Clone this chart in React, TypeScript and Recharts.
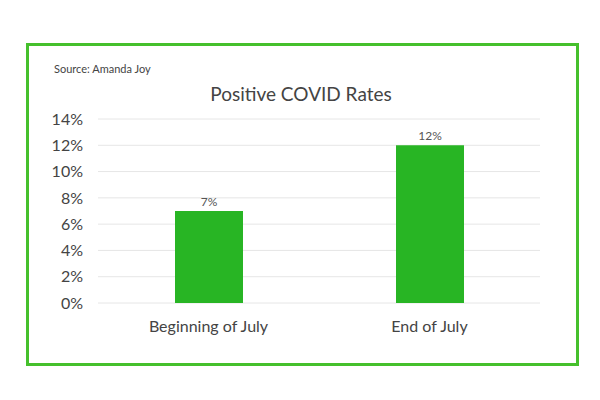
import { BarChart, Bar, XAxis, YAxis, CartesianGrid, LabelList } from 'recharts'

const categories = ['Beginning of July', 'End of July']
const rates = [7, 12]
const yTicks = [0, 2, 4, 6, 8, 10, 12, 14]

const FONT = 'Lato, "Open Sans", sans-serif'

export default function App() {
  const data = categories.map((name, i) => ({ name, rate: rates[i] }))

  return (
    <div style={{ position: 'absolute', left: 0, top: 0, width: 600, height: 400, background: '#fff', fontFamily: FONT }}>
      <div style={{ position: 'absolute', left: 26, top: 43, width: 547, height: 317, border: '3px solid #45c02c' }} />
      <div style={{ position: 'absolute', left: 54, top: 62, fontSize: 11, color: '#444' }}>Source: Amanda Joy</div>
      <div style={{ position: 'absolute', left: 0, width: 602, top: 82, textAlign: 'center', fontSize: 19, color: '#444' }}>
        Positive COVID Rates
      </div>
      <div style={{ position: 'absolute', left: 0, top: 0 }}>
        <BarChart width={600} height={400} data={data} margin={{ top: 119, right: 60, bottom: 67, left: 38 }}>
          <CartesianGrid vertical={false} stroke="#e6e6e6" />
          <XAxis
            dataKey="name"
            axisLine={false}
            tickLine={false}
            tickSize={0}
            tickMargin={18}
            height={30}
            tick={{ fill: '#444', fontSize: 16, fontFamily: FONT }}
          />
          <YAxis
            domain={[0, 14]}
            ticks={yTicks}
            tickFormatter={(v: number) => `${v}%`}
            axisLine={false}
            tickLine={false}
            tickSize={0}
            tickMargin={15}
            width={60}
            tick={{ fill: '#444', fontSize: 16, fontFamily: FONT }}
          />
          <Bar dataKey="rate" fill="#28b524" barSize={68} isAnimationActive={false}>
            <LabelList
              dataKey="rate"
              position="top"
              offset={5}
              formatter={(v: number) => `${v}%`}
              style={{ fill: '#555', fontSize: 12, fontFamily: FONT }}
            />
          </Bar>
        </BarChart>
      </div>
    </div>
  )
}
